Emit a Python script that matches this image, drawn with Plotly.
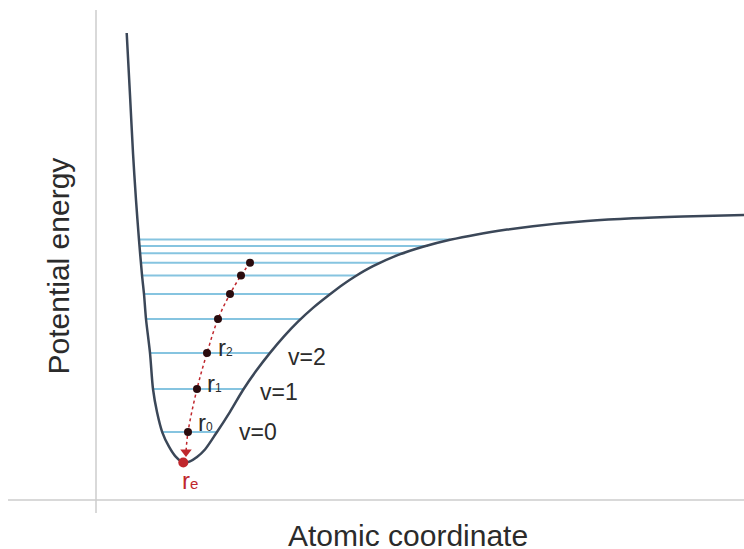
import plotly.graph_objects as go

# ---- data (arbitrary units) ----
curve_x = [0.307, 0.34, 0.37, 0.40, 0.43, 0.46, 0.48, 0.50, 0.54, 0.57, 0.61, 0.663, 0.73, 0.797,
           0.875, 0.94, 1.01, 1.09, 1.20, 1.34, 1.47, 1.60, 1.74, 1.88, 2.02, 2.17, 2.34, 2.47,
           2.59, 2.77, 3.01, 3.27, 3.54, 3.81, 4.11, 4.37, 4.91, 5.37, 5.87, 6.48]
curve_y = [4.67, 4.05, 3.47, 3.00, 2.60, 2.25, 2.06, 1.81, 1.47, 1.11, 0.88, 0.677, 0.533, 0.433,
           0.373, 0.387, 0.43, 0.505, 0.665, 0.882, 1.10, 1.289, 1.471, 1.636, 1.783, 1.921, 2.057,
           2.155, 2.235, 2.338, 2.446, 2.532, 2.602, 2.656, 2.704, 2.738, 2.789, 2.817, 2.835, 2.85]

level_energy = [0.68, 1.11, 1.47, 1.81, 2.06, 2.245, 2.373, 2.467, 2.54, 2.605]
level_left = [0.66, 0.57, 0.54, 0.50, 0.48, 0.47, 0.46, 0.45, 0.44, 0.43]
level_right = [1.20, 1.47, 1.74, 2.04, 2.34, 2.60, 2.85, 3.09, 3.32, 3.54]

centre_x = [0.92, 1.01, 1.11, 1.22, 1.34, 1.45, 1.54]   # mean bond length of each level
centre_y = level_energy[:7]

arrow_tip = (0.90, 0.48)
r_e = (0.873, 0.375)

v_labels = ["v=0", "v=1", "v=2"]
v_label_x = [1.615, 1.83, 2.107]
v_label_y = [0.683, 1.083, 1.433]

r_subscripts = ["0", "1", "2"]
r_label_x = [0.995, 1.085, 1.20]
r_label_y = [0.78, 1.165, 1.53]

x_title = "Atomic coordinate"
y_title = "Potential energy"

# ---- figure ----
FONT = "Liberation Sans, Arial, sans-serif"
TXT = "#2b2b2b"
RED = "#c0272d"

lx, ly = [], []
for e, a, b in zip(level_energy, level_left, level_right):
    lx += [a, b, None]
    ly += [e, e, None]

fig = go.Figure()
fig.add_trace(go.Scatter(x=lx, y=ly, mode="lines",
                         line=dict(color="#86c4e0", width=2), hoverinfo="skip"))
fig.add_trace(go.Scatter(x=curve_x, y=curve_y, mode="lines", line_shape="spline",
                         line=dict(color="#3b4758", width=2.5, smoothing=0.8), hoverinfo="skip"))
path_x = list(reversed(centre_x)) + [arrow_tip[0]]
path_y = list(reversed(centre_y)) + [arrow_tip[1]]
fig.add_trace(go.Scatter(x=path_x, y=path_y, mode="lines", line_shape="spline",
                         line=dict(color=RED, width=1.5, dash="dot"), hoverinfo="skip"))
fig.add_trace(go.Scatter(x=[arrow_tip[0]], y=[arrow_tip[1]], mode="markers",
                         marker=dict(symbol="triangle-down", size=10, color=RED),
                         hoverinfo="skip"))
fig.add_trace(go.Scatter(x=centre_x, y=centre_y, mode="markers",
                         marker=dict(size=8, color="#2a0c0e"), hoverinfo="skip"))
fig.add_trace(go.Scatter(x=[r_e[0]], y=[r_e[1]], mode="markers",
                         marker=dict(size=10, color=RED), hoverinfo="skip"))

annotations = []
for t, x, y in zip(v_labels, v_label_x, v_label_y):
    annotations.append(dict(x=x, y=y, text=t, showarrow=False, xanchor="center", yanchor="middle",
                            font=dict(family=FONT, size=23, color=TXT)))
for s, x, y in zip(r_subscripts, r_label_x, r_label_y):
    annotations.append(dict(x=x, y=y, text="r<span style='font-size:12px'>" + s + "</span>",
                            showarrow=False, xanchor="left", yanchor="middle",
                            font=dict(family=FONT, size=24, color=TXT)))
annotations.append(dict(x=0.835, y=0.20, text="r<span style='font-size:15px'>e</span>",
                        showarrow=False, xanchor="left", yanchor="middle",
                        font=dict(family=FONT, size=24, color=RED)))
annotations.append(dict(x=3.115, y=-0.35, text=x_title, showarrow=False, xanchor="center",
                        yanchor="middle", font=dict(family=FONT, size=30, color=TXT)))
annotations.append(dict(x=-0.385, y=2.34, text=y_title, showarrow=False, textangle=-90,
                        xanchor="center", yanchor="middle",
                        font=dict(family=FONT, size=30, color=TXT)))

shapes = [
    dict(type="line", xref="x", yref="y", x0=-0.88, x1=6.48, y0=0, y1=0,
         line=dict(color="#cccccc", width=1.5), layer="below"),
    dict(type="line", xref="x", yref="y", x0=0, x1=0, y0=-0.13, y1=4.90,
         line=dict(color="#cccccc", width=1.5), layer="below"),
]

fig.update_layout(
    width=744, height=549,
    margin=dict(l=0, r=0, t=0, b=0),
    paper_bgcolor="white", plot_bgcolor="white",
    showlegend=False,
    xaxis=dict(range=[-0.96, 6.48], visible=False, fixedrange=True),
    yaxis=dict(range=[-0.49, 5.00], visible=False, fixedrange=True),
    annotations=annotations, shapes=shapes,
)

fig.write_html("out.html")
